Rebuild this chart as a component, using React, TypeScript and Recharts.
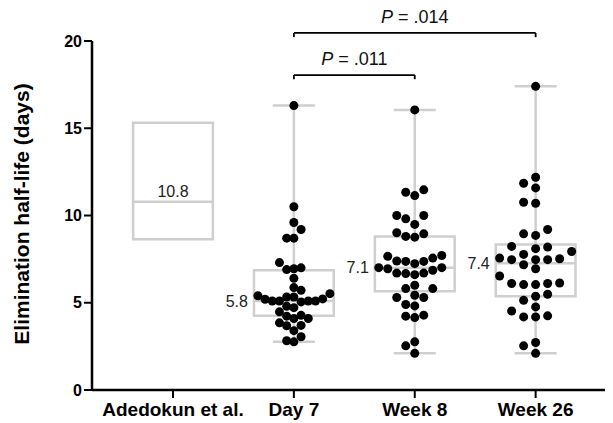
import {
  ComposedChart,
  XAxis,
  YAxis,
  Scatter,
  ReferenceArea,
  ReferenceLine,
} from "recharts";

const categories = ["Adedokun et al.", "Day 7", "Week 8", "Week 26"];
const yTicks = [0, 5, 10, 15, 20];

// individual half-life values (days)
const day7 = [
  16.3, 10.5, 9.6, 9.2, 8.7, 8.7, 7.3, 7.0, 6.95, 6.9, 6.4, 5.87, 5.71, 5.52,
  5.4, 5.33, 5.33, 5.22, 5.2, 5.1, 5.1, 5.1, 5.1, 5.05, 4.8, 4.72, 4.48, 4.28,
  4.23, 4.1, 4.1, 3.85, 3.7, 3.68, 3.4, 3.05, 2.82, 2.76,
];
const week8 = [
  16.05, 11.47, 11.33, 11.14, 10.0, 10.0, 9.81, 9.49, 9.01, 8.95, 8.8, 8.76,
  7.71, 7.66, 7.56, 7.39, 7.37, 7.37, 7.24, 7.01, 7.01, 6.95, 6.86, 6.7, 6.7,
  6.67, 6.61, 6.0, 5.81, 5.81, 5.43, 5.3, 5.3, 4.9, 4.82, 4.29, 4.23, 4.15,
  2.76, 2.53, 2.1,
];
const week26 = [
  17.4, 12.19, 11.85, 11.58, 10.76, 10.7, 9.2, 8.95, 8.86, 8.23, 8.19, 8.1,
  7.94, 7.77, 7.56, 7.52, 7.47, 7.47, 7.47, 7.18, 6.95, 6.53, 6.13, 6.1, 6.1,
  6.04, 6.04, 5.49, 5.37, 5.14, 4.76, 4.53, 4.25, 4.19, 4.19, 2.72, 2.53, 2.1,
];

// box summaries, one entry per category
const boxQ1 = [8.64, 4.25, 5.66, 5.37];
const boxMedian = [10.79, 5.1, 7.01, 7.27];
const boxQ3 = [15.32, 6.86, 8.8, 8.34];
const whiskerMin = [null, 2.76, 2.1, 2.1];
const whiskerMax = [null, 16.3, 16.05, 17.4];
const medianLabels = ["10.8", "5.8", "7.1", "7.4"];

// significance brackets (category positions, 1-based)
const pairs = [
  [2, 3],
  [2, 4],
];
const pLabels = [" = .011", " = .014"];

// layout
const W = 605;
const H = 415;
const MARGIN = { top: 33, right: 0, bottom: 3, left: 0 };
const Y_AXIS_W = 84;
const X_AXIS_H = 30;
const X_DOMAIN = [0.33, 4.64];
const Y_DOMAIN = [0, 20];
const BOX_HALF = 0.33;
const CAP_HALF = 0.174;
const BRACKET_Y = [18.05, 20.46];
const BRACKET_DROP = 0.24;
const SWARM_SLOT = [7.2, 9, 12];
const DOT_R = 4.5;
const FONT = "'Liberation Sans', Arial, sans-serif";
const GREY = "#cfcfcf";

const pxPerX =
  (W - MARGIN.left - MARGIN.right - Y_AXIS_W) / (X_DOMAIN[1] - X_DOMAIN[0]);
const pxPerY =
  (H - MARGIN.top - MARGIN.bottom - X_AXIS_H) / (Y_DOMAIN[1] - Y_DOMAIN[0]);

// simple slot-based beeswarm, returns pixel offsets
function swarm(values: number[], slot: number, h: number) {
  const order = values.map((_, i) => i).sort((a, b) => values[a] - values[b]);
  const placed: { x: number; y: number }[] = [];
  const out: number[] = new Array(values.length).fill(0);
  for (const i of order) {
    const y = values[i] * pxPerY;
    const near = placed.filter((p) => Math.abs(p.y - y) < h);
    const cands = [0];
    near.forEach((p) => cands.push(p.x + slot, p.x - slot));
    cands.sort((a, b) => Math.abs(a) - Math.abs(b) || a - b);
    const x =
      cands.find((c) => near.every((p) => Math.abs(p.x - c) >= slot - 0.01)) ??
      0;
    placed.push({ x, y });
    out[i] = x;
  }
  return out;
}

const groups = [day7, week8, week26];
const dots = groups.flatMap((vals, g) => {
  const offs = swarm(vals, SWARM_SLOT[g], 9);
  return vals.map((v, i) => ({ x: g + 2 + offs[i] / pxPerX, y: v }));
});

const Dot = (props: any) => (
  <circle cx={props.cx} cy={props.cy} r={DOT_R} fill="#000" />
);

const pLabel = (text: string) => (props: any) => {
  const vb = props.viewBox;
  return (
    <text
      x={vb.x + vb.width / 2}
      y={vb.y - 10}
      textAnchor="middle"
      fontFamily={FONT}
      fontSize={18}
      fill="#111"
    >
      <tspan fontStyle="italic">P</tspan>
      {text}
    </text>
  );
};

export default function App() {
  return (
    <ComposedChart width={W} height={H} margin={MARGIN}>
      <XAxis
        dataKey="x"
        type="number"
        domain={X_DOMAIN}
        allowDataOverflow
        ticks={[1, 2, 3, 4]}
        interval={0}
        tickFormatter={(v: number) => categories[v - 1]}
        height={X_AXIS_H}
        tickSize={8}
        tickMargin={5}
        axisLine={{ stroke: "#000", strokeWidth: 2.5 }}
        tickLine={{ stroke: "#000", strokeWidth: 2 }}
        tick={{ fill: "#000", fontSize: 19, fontWeight: 700, fontFamily: FONT }}
      />
      <YAxis
        dataKey="y"
        type="number"
        domain={Y_DOMAIN}
        allowDataOverflow
        ticks={yTicks}
        interval={0}
        width={Y_AXIS_W}
        tickSize={8}
        tickMargin={2}
        axisLine={{ stroke: "#000", strokeWidth: 2.5 }}
        tickLine={{ stroke: "#000", strokeWidth: 2 }}
        tick={{ fill: "#000", fontSize: 16, fontWeight: 700, fontFamily: FONT }}
        label={{
          content: () => (
            <text
              x={13}
              y={206}
              transform="rotate(-90 13 206)"
              textAnchor="middle"
              dominantBaseline="central"
              fontFamily={FONT}
              fontSize={21}
              fontWeight={700}
              fill="#000"
            >
              Elimination half-life (days)
            </text>
          ),
        }}
      />

      {categories.map((_, i) => {
        const pos = i + 1;
        const lo = whiskerMin[i];
        const hi = whiskerMax[i];
        return [
          lo != null && (
            <ReferenceLine
              key={`wl${i}`}
              segment={[
                { x: pos, y: lo },
                { x: pos, y: boxQ1[i] },
              ]}
              stroke={GREY}
              strokeWidth={2.5}
            />
          ),
          hi != null && (
            <ReferenceLine
              key={`wh${i}`}
              segment={[
                { x: pos, y: boxQ3[i] },
                { x: pos, y: hi },
              ]}
              stroke={GREY}
              strokeWidth={2.5}
            />
          ),
          lo != null && (
            <ReferenceLine
              key={`cl${i}`}
              segment={[
                { x: pos - CAP_HALF, y: lo },
                { x: pos + CAP_HALF, y: lo },
              ]}
              stroke={GREY}
              strokeWidth={2.5}
            />
          ),
          hi != null && (
            <ReferenceLine
              key={`ch${i}`}
              segment={[
                { x: pos - CAP_HALF, y: hi },
                { x: pos + CAP_HALF, y: hi },
              ]}
              stroke={GREY}
              strokeWidth={2.5}
            />
          ),
          <ReferenceArea
            key={`b${i}`}
            x1={pos - BOX_HALF}
            x2={pos + BOX_HALF}
            y1={boxQ1[i]}
            y2={boxQ3[i]}
            fill="none"
            fillOpacity={0}
            stroke={GREY}
            strokeWidth={2.5}
            strokeOpacity={1}
          />,
          <ReferenceLine
            key={`m${i}`}
            segment={[
              { x: pos - BOX_HALF, y: boxMedian[i] },
              { x: pos + BOX_HALF, y: boxMedian[i] },
            ]}
            stroke={GREY}
            strokeWidth={2.5}
            label={{
              value: medianLabels[i],
              position: i === 0 ? "top" : "left",
              offset: i === 0 ? 5 : 6,
              fontSize: 16,
              fill: "#222",
              fontFamily: FONT,
            }}
          />,
        ];
      })}

      {pairs.map(([a, b], k) => [
        <ReferenceLine
          key={`br${k}`}
          segment={[
            { x: a, y: BRACKET_Y[k] },
            { x: b, y: BRACKET_Y[k] },
          ]}
          stroke="#000"
          strokeWidth={1.8}
          ifOverflow="visible"
          label={{ content: pLabel(pLabels[k]) }}
        />,
        <ReferenceLine
          key={`bl${k}`}
          segment={[
            { x: a, y: BRACKET_Y[k] },
            { x: a, y: BRACKET_Y[k] - BRACKET_DROP },
          ]}
          stroke="#000"
          strokeWidth={1.8}
          ifOverflow="visible"
        />,
        <ReferenceLine
          key={`brr${k}`}
          segment={[
            { x: b, y: BRACKET_Y[k] },
            { x: b, y: BRACKET_Y[k] - BRACKET_DROP },
          ]}
          stroke="#000"
          strokeWidth={1.8}
          ifOverflow="visible"
        />,
      ])}

      <Scatter
        data={dots}
        shape={Dot}
        isAnimationActive={false}
        zIndex={1000}
      />
    </ComposedChart>
  );
}
